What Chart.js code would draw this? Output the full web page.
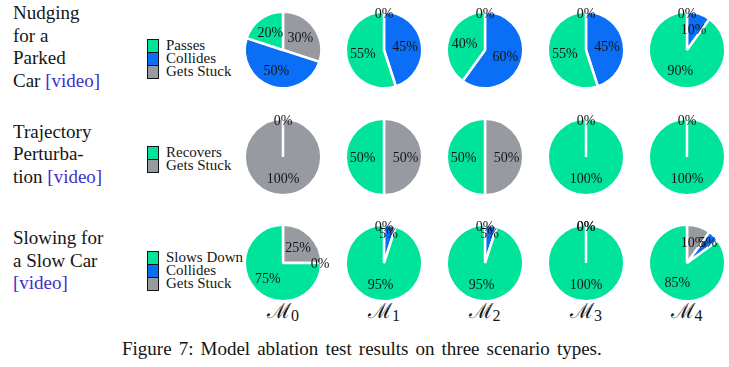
<!DOCTYPE html>
<html>
<head>
<meta charset="utf-8">
<script src="https://cdn.jsdelivr.net/npm/chart.js@4.4.1/dist/chart.umd.min.js"></script>
<style>
  html, body { margin:0; padding:0; background:#fff; }
  body { width:729px; height:367px; position:relative; overflow:hidden; font-family:"Liberation Serif", serif; color:#151515; }
  .abs { position:absolute; }
  .scen { font-size:19px; line-height:22.6px; white-space:nowrap; }
  .link { color:#3d2fc9; }
  .leg { font-size:15px; line-height:13px; white-space:nowrap; }
  .legrow { height:13px; position:relative; }
  .sw { position:absolute; left:0; top:0; width:10px; height:12px; border:1px solid #111; }
  .legrow span { position:absolute; left:19px; top:0; }
  .model { font-family:"DejaVu Serif", serif; font-size:21px; width:80px; text-align:center; white-space:nowrap; }
  .model sub { font-family:"Liberation Serif", serif; font-size:16px; vertical-align:-3px; }
  .cap { font-size:19px; word-spacing:2.3px; white-space:nowrap; }
  canvas { position:absolute; }
</style>
</head>
<body>
<script>
// ---- data ----
const models = ['0', '1', '2', '3', '4'];
const scenarioLines = [
  ['Nudging', 'for a', 'Parked', 'Car [video]'],
  ['Trajectory', 'Perturba-', 'tion [video]'],
  ['Slowing for', 'a Slow Car', '[video]']
];
const row1Labels = ['Passes', 'Collides', 'Gets Stuck'];
const row1Passes   = [20, 55, 40, 55, 90];
const row1Collides = [50, 45, 60, 45, 10];
const row1Stuck    = [30,  0,  0,  0,  0];

const row2Labels = ['Recovers', 'Gets Stuck'];
const row2Recovers = [0, 50, 50, 100, 100];
const row2Stuck    = [100, 50, 50, 0, 0];

const row3Labels = ['Slows Down', 'Collides', 'Gets Stuck'];
const row3Slows    = [75, 95, 95, 100, 85];
const row3Collides = [0, 5, 5, 0, 5];
const row3Stuck    = [25, 0, 0, 0, 10];

const caption = 'Figure 7: Model ablation test results on three scenario types.';

// ---- style ----
const GREEN = '#00e39b', BLUE = '#0a6ef6', GRAY = '#979aa0';
const rows = [
  { labels: row1Labels, series: [row1Passes, row1Collides, row1Stuck], colors: [GREEN, BLUE, GRAY] },
  { labels: row2Labels, series: [row2Recovers, row2Stuck], colors: [GREEN, GRAY] },
  { labels: row3Labels, series: [row3Slows, row3Collides, row3Stuck], colors: [GREEN, BLUE, GRAY] }
];
const colX = [283, 384, 484.5, 586, 686.5];
const rowY = [50.3, 156.5, 262.5];
const textTops = [2.3, 120.5, 227.3];
const legTops = [39, 145.5, 251];

const body = document.body;

// scenario text
scenarioLines.forEach((lines, r) => {
  const d = document.createElement('div');
  d.className = 'abs scen';
  d.style.left = '13px';
  d.style.top = textTops[r] + 'px';
  d.innerHTML = lines.map(l => l.replace('[video]', '<span class="link">[video]</span>')).join('<br>');
  body.appendChild(d);
});

// legends
rows.forEach((row, r) => {
  const d = document.createElement('div');
  d.className = 'abs leg';
  d.style.left = '147px';
  d.style.top = legTops[r] + 'px';
  row.labels.forEach((lab, i) => {
    const it = document.createElement('div');
    it.className = 'legrow';
    it.innerHTML = '<div class="sw" style="background:' + row.colors[i] + '"></div><span>' + lab + '</span>';
    d.appendChild(it);
  });
  body.appendChild(d);
});

// model labels
models.forEach((m, c) => {
  const d = document.createElement('div');
  d.className = 'abs model';
  d.style.left = (colX[c] - 40) + 'px';
  d.style.top = '296px';
  d.innerHTML = '\u2133<sub>' + m + '</sub>';
  body.appendChild(d);
});

// caption
const cap = document.createElement('div');
cap.className = 'abs cap';
cap.textContent = caption;
body.appendChild(cap);
cap.style.left = (362 - cap.offsetWidth / 2) + 'px';
cap.style.top = '338px';

// percentage labels plugin
const pctLabels = {
  id: 'pctLabels',
  afterDatasetsDraw(chart) {
    const ctx = chart.ctx;
    const meta = chart.getDatasetMeta(0);
    const data = chart.data.datasets[0].data;
    ctx.save();
    ctx.font = '14px "Liberation Serif", serif';
    ctx.fillStyle = '#151515';
    ctx.textAlign = 'center';
    ctx.textBaseline = 'middle';
    meta.data.forEach((arc, i) => {
      const p = arc.getProps(['x', 'y', 'startAngle', 'endAngle', 'outerRadius'], true);
      const v = data[i];
      const f = v === 0 ? 1.0 : (v < 10 ? 0.8 : 0.58);
      const mid = (p.startAngle + p.endAngle) / 2;
      const R = p.outerRadius - 1.25;
      ctx.fillText(v + '%', p.x + Math.cos(mid) * R * f, p.y + Math.sin(mid) * R * f + 1);
    });
    ctx.restore();
  }
};

const SIZE = 130, BW = 2.5, RAD = 38.25;
const PAD = (SIZE - BW - 2 * RAD) / 2;

rows.forEach((row, r) => {
  models.forEach((m, c) => {
    const cv = document.createElement('canvas');
    cv.width = SIZE; cv.height = SIZE;
    cv.style.width = SIZE + 'px'; cv.style.height = SIZE + 'px';
    cv.style.left = (colX[c] - SIZE / 2) + 'px';
    cv.style.top = (rowY[r] - SIZE / 2) + 'px';
    body.appendChild(cv);
    // matplotlib draws counter-clockwise from the top; Chart.js clockwise -> reverse order
    const vals = row.series.map(s => s[c]).reverse();
    const cols = row.colors.slice().reverse();
    const labs = row.labels.slice().reverse();
    new Chart(cv, {
      type: 'pie',
      data: { labels: labs, datasets: [{ data: vals, backgroundColor: cols, borderColor: '#ffffff', borderWidth: BW }] },
      options: {
        responsive: false, animation: false, devicePixelRatio: 1, rotation: 0,
        layout: { padding: PAD },
        events: [],
        plugins: { legend: { display: false }, tooltip: { enabled: false } }
      },
      plugins: [pctLabels]
    });
  });
});
</script>
</body>
</html>
